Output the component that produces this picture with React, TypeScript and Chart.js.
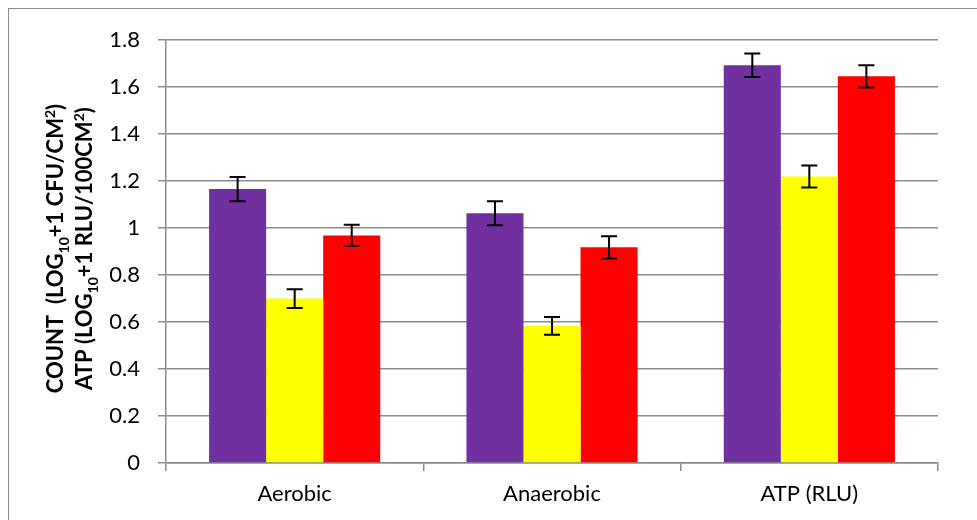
import React, { useEffect, useRef } from "react";
import { Chart, registerables } from "chart.js";

Chart.register(...registerables);

const categories = ["Aerobic", "Anaerobic", "ATP (RLU)"];
const purpleValues = [1.166, 1.063, 1.693];
const purpleErrors = [0.052, 0.051, 0.05];
const yellowValues = [0.7, 0.584, 1.22];
const yellowErrors = [0.04, 0.038, 0.047];
const redValues = [0.969, 0.918, 1.646];
const redErrors = [0.045, 0.047, 0.047];
const yTickLabels = ["0", "0.2", "0.4", "0.6", "0.8", "1", "1.2", "1.4", "1.6", "1.8"];

type Seg = { t: string; sub?: boolean; sup?: boolean };
const titleLine1: Seg[] = [
  { t: "COUNT  (LOG" },
  { t: "10", sub: true },
  { t: "+1 CFU/CM" },
  { t: "2", sup: true },
  { t: ")" },
];
const titleLine2: Seg[] = [
  { t: "ATP (LOG" },
  { t: "10", sub: true },
  { t: "+1 RLU/100CM" },
  { t: "2", sup: true },
  { t: ")" },
];

const FONT = "Lato";
const GRID = "#8c8c8c";
const TICK_SIZE = 22;
const TITLE_SIZE = 22;

const errorBarPlugin = {
  id: "errorBars",
  afterDatasetsDraw(chart: any) {
    const ctx = chart.ctx;
    const yScale = chart.scales.y;
    const errs = [purpleErrors, yellowErrors, redErrors];
    ctx.save();
    ctx.strokeStyle = "#000";
    ctx.lineWidth = 2;
    chart.data.datasets.forEach((ds: any, di: number) => {
      const meta = chart.getDatasetMeta(di);
      meta.data.forEach((bar: any, i: number) => {
        const v = ds.data[i];
        const e = errs[di][i];
        const yTop = yScale.getPixelForValue(v + e);
        const yBot = yScale.getPixelForValue(v - e);
        const x = bar.x;
        const cap = 8;
        ctx.beginPath();
        ctx.moveTo(x, yTop);
        ctx.lineTo(x, yBot);
        ctx.moveTo(x - cap, yTop);
        ctx.lineTo(x + cap, yTop);
        ctx.moveTo(x - cap, yBot);
        ctx.lineTo(x + cap, yBot);
        ctx.stroke();
      });
    });
    ctx.restore();
  },
};

function drawRichLine(ctx: CanvasRenderingContext2D, segs: Seg[], size: number) {
  const main = `bold ${size}px ${FONT}`;
  const small = `bold ${Math.round(size * 0.65)}px ${FONT}`;
  let total = 0;
  const widths = segs.map((s) => {
    ctx.font = s.sub || s.sup ? small : main;
    const w = ctx.measureText(s.t).width;
    total += w;
    return w;
  });
  let x = -total / 2;
  segs.forEach((s, i) => {
    ctx.font = s.sub || s.sup ? small : main;
    const dy = s.sub ? size * 0.25 : s.sup ? -size * 0.38 : 0;
    ctx.fillText(s.t, x, dy);
    x += widths[i];
  });
}

const titlePlugin = {
  id: "yTitle",
  afterDraw(chart: any) {
    const ctx = chart.ctx;
    const area = chart.chartArea;
    const cy = (area.top + area.bottom) / 2 - 3;
    ctx.save();
    ctx.fillStyle = "#000";
    ctx.textBaseline = "alphabetic";
    ctx.textAlign = "left";
    [
      { segs: titleLine1, x: 54 },
      { segs: titleLine2, x: 83 },
    ].forEach((l) => {
      ctx.save();
      ctx.translate(l.x, cy);
      ctx.rotate(-Math.PI / 2);
      drawRichLine(ctx, l.segs, TITLE_SIZE);
      ctx.restore();
    });
    ctx.restore();
  },
};

export default function App() {
  const ref = useRef<HTMLCanvasElement | null>(null);
  useEffect(() => {
    let chart: Chart | null = null;
    let cancelled = false;
    const make = () => {
      if (cancelled || !ref.current) return;
      chart = new Chart(ref.current, {
        type: "bar",
        data: {
          labels: categories,
          datasets: [
            { data: purpleValues, backgroundColor: "#7030A0", borderWidth: 0 },
            { data: yellowValues, backgroundColor: "#FFFF00", borderWidth: 0 },
            { data: redValues, backgroundColor: "#FF0000", borderWidth: 0 },
          ],
        },
        options: {
          animation: false,
          responsive: false,
          devicePixelRatio: 1,
          layout: { padding: { left: 0, top: 29, right: 39, bottom: 0 } },
          plugins: { legend: { display: false }, tooltip: { enabled: false } },
          datasets: { bar: { categoryPercentage: 0.665, barPercentage: 1 } },
          scales: {
            x: {
              grid: {
                display: true,
                drawOnChartArea: false,
                drawTicks: true,
                tickLength: 8,
                color: GRID,
                lineWidth: 1.5,
                offset: true,
              },
              border: { display: true, color: GRID, width: 1.5 },
              ticks: { color: "#000", font: { family: FONT, size: TICK_SIZE }, padding: 10 },
              afterFit: (s: any) => {
                s.height = 57;
              },
            },
            y: {
              min: 0,
              max: 1.8,
              ticks: {
                stepSize: 0.2,
                color: "#000",
                font: { family: FONT, size: TICK_SIZE },
                padding: 18,
                callback: (_v: any, i: number) => yTickLabels[i],
              },
              grid: { color: GRID, lineWidth: 1.5, tickLength: 8, drawTicks: true },
              border: { display: true, color: GRID, width: 1.5 },
              afterFit: (s: any) => {
                s.width = 157;
              },
            },
          },
        },
        plugins: [errorBarPlugin, titlePlugin],
      });
    };
    const fonts = (document as any).fonts;
    if (fonts && fonts.load) {
      Promise.all([fonts.load(`22px ${FONT}`), fonts.load(`bold 22px ${FONT}`)])
        .catch(() => {})
        .then(make);
    } else make();
    return () => {
      cancelled = true;
      if (chart) chart.destroy();
    };
  }, []);
  return (
    <div
      style={{
        position: "fixed",
        left: 8,
        top: 8,
        width: 969,
        height: 512,
        borderTop: "1px solid #8c8c8c",
        borderLeft: "1px solid #8c8c8c",
        background: "#fff",
        boxSizing: "border-box",
      }}
    >
      <canvas ref={ref} width={968} height={511} style={{ display: "block" }} />
    </div>
  );
}
